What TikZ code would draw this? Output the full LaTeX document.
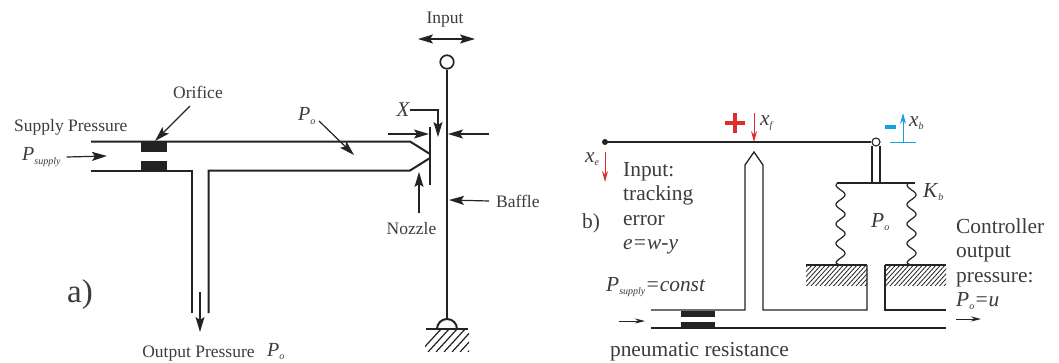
\documentclass[tikz,border=0pt]{standalone}
\usepackage{fontspec}
\setmainfont{Liberation Serif}
\usepackage{tikz}
\usetikzlibrary{arrows.meta}
\definecolor{inkgray}{RGB}{35,35,35}
\definecolor{textgray}{RGB}{60,60,60}
\definecolor{plusred}{RGB}{222,45,45}
\definecolor{minusblue}{RGB}{20,160,225}
\newcommand{\subvar}[2]{\textit{#1}\raisebox{-.16em}{\fontsize{10}{10}\selectfont\textit{#2}}}
\tikzset{
  pipe/.style={draw=inkgray,line width=2pt},
  thinpipe/.style={draw=inkgray,line width=1.3pt},
  callout/.style={draw=inkgray,line width=1.2pt,-{Stealth[length=15pt,width=9pt,inset=3pt]}},
  flowarrow/.style={draw=inkgray,line width=.9pt,-{Stealth[length=10pt,width=5pt]}},
  redarrow/.style={draw=plusred,line width=1pt,-{Stealth[length=11pt,width=6pt]}},
  bluearrow/.style={draw=minusblue,line width=1pt,-{Stealth[length=11pt,width=6pt]}},
  smalltxt/.style={inner sep=0pt,text=textgray,font=\fontsize{17.5}{17.5}\selectfont},
  bigtxt/.style={inner sep=0pt,text=textgray,font=\fontsize{21.4}{24.5}\selectfont,align=left},
  orificeblock/.style={fill=inkgray,draw=none},
  hatchline/.style={draw=inkgray,line width=.8pt}
}
\begin{document}
\begin{tikzpicture}[x=1pt,y=-1pt]
  \useasboundingbox[fill=white] (0,0) rectangle (1059,362);
  \draw[pipe] (91,141.5) -- (410,141.5) -- (430,154);
  \draw[pipe] (91,170.5) -- (191.5,170.5) -- (191.5,313);
  \draw[pipe] (208.5,313) -- (208.5,170.5) -- (410,170.5) -- (430,158);
  \fill[orificeblock] (141,142) rectangle (167,151.5);
  \fill[orificeblock] (141,161) rectangle (167,170.5);
  \draw[thinpipe,line width=1.6pt] (430,127) -- (430,185);
  \node[draw=inkgray,line width=1.7pt,circle,minimum size=13.5pt,inner sep=0pt] (pivot) at (447,62) {};
  \coordinate (hinge) at (447,319);
  \draw[pipe] (pivot) -- (hinge);
  \draw[pipe] (426,329) -- (468,329);
  \draw[pipe] (437,329) arc[start angle=180,end angle=0,radius=10pt];
  \begin{scope}
    \clip (425,330) rectangle (469,351);
    \foreach \x in {420,428,...,476}{\draw[hatchline,line width=1.2pt] (\x,352) -- (\x+22,328);}
  \end{scope}

  \node[smalltxt] (orificelabel) at (198,92) {Orifice};
  \node[smalltxt,anchor=west] (supplylabel) at (14,127) {Supply Pressure};
  \node[smalltxt,anchor=west,font=\fontsize{20}{20}\selectfont] (psupply) at (22,157) {\subvar{P}{supply}};
  \node[smalltxt] (outputlabel) at (198.5,354) {Output Pressure};
  \node[smalltxt,anchor=west,font=\fontsize{20}{20}\selectfont] (pooutput) at (267,351.5) {\subvar{P}{o}};
  \node[inner sep=0pt,text=textgray,font=\fontsize{33}{33}\selectfont] (alabel) at (80,295) {a)};
  \node[smalltxt] (inputlabel) at (445,20) {Input};
  \node[smalltxt,anchor=west,font=\fontsize{20}{20}\selectfont] (polabel) at (298,116) {\subvar{P}{o}};
  \node[smalltxt,font=\fontsize{21}{21}\selectfont\itshape] (xlabel) at (403,110) {X};
  \node[smalltxt,anchor=west] (bafflelabel) at (496,201) {Baffle};
  \node[smalltxt] (nozzlelabel) at (411.5,229) {Nozzle};

  \coordinate (orificetip) at (155,141);
  \coordinate (xcorner) at (438,110);
  \coordinate (xtip) at (438,137);
  \coordinate (gapleft) at (429,134);
  \coordinate (gapright) at (448,134);
  \draw[callout] (190,106) -- (orificetip);
  \draw[callout] ([xshift=6]psupply.east) -- (107,156);
  \draw[callout] (200,292) -- (200,332);
  \draw[callout,{Stealth[length=15pt,width=9pt,inset=3pt]}-{Stealth[length=15pt,width=9pt,inset=3pt]}] (418,39) -- (475,39);
  \draw[callout] (xlabel.east) -- (xcorner) -- (xtip);
  \draw[callout] (388,134) -- (gapleft);
  \draw[callout] (489,134) -- (gapright);
  \draw[callout] ([xshift=-7]bafflelabel.west) -- (449,200);
  \draw[callout] ([yshift=10,xshift=7.5]nozzlelabel.north) -- (419,172);
  \draw[callout] (319,121) -- (354,155);

  \draw[thinpipe] (651,310) -- (745,310) -- (745,165) -- (754,152) -- (763,165) -- (763,310) -- (867,310) -- (867,265);
  \draw[thinpipe] (885,265) -- (885,310) -- (946,310);
  \draw[thinpipe] (651,328) -- (946,328);
  \fill[orificeblock] (681,310.5) rectangle (715,317);
  \fill[orificeblock] (681,322) rectangle (715,328);
  \fill[inkgray] (605,142) circle (3pt);
  \node[draw=inkgray,line width=1.1pt,fill=white,circle,minimum size=8pt,inner sep=0pt] (leverend) at (876,142) {};
  \draw[thinpipe] (605,142) -- (leverend);
  \draw[thinpipe] (872,146) -- (872,183);
  \draw[thinpipe] (880,146) -- (880,183);
  \draw[thinpipe] (837,183) -- (915,183);
  \foreach \x in {840.5,911.5}{
    \draw[inkgray,line width=1.2pt,smooth,samples=90,domain=0:1,variable=\s] plot ({\x-4.5*cos(360*4*\s)},{185+78*\s});
    \draw[inkgray,line width=1.2pt] (\x-4.5,185) -- (\x-3,183);
    \draw[inkgray,line width=1.2pt] (\x-4.5,263) -- (\x-1,265);
  }
  \foreach \a/\b in {806/867,885/946}{
    \draw[thinpipe] (\a,265) -- (\b,265);
    \begin{scope}
      \clip (\a,265) rectangle (\b,285);
      \foreach \x in {0,4.5,...,85}{\draw[hatchline] (\a-22+\x,286) -- (\a-2+\x,264);}
    \end{scope}
  }

  \draw[plusred,line width=3.5pt] (725,123) -- (745,123);
  \draw[plusred,line width=3.5pt] (735,113) -- (735,133);
  \draw[redarrow] (754,113) -- (754,142);
  \draw[redarrow] (605,152) -- (605,182);
  \draw[minusblue,line width=3.5pt] (885,127) -- (896,127);
  \draw[bluearrow] (903,142) -- (903,113);
  \draw[minusblue,line width=1pt] (890,142) -- (916,142);
  \draw[flowarrow] (619,321) -- (645,321);
  \draw[flowarrow] (956,319) -- (981,319);

  \node[bigtxt,anchor=west] (xelabel) at (585,159) {\subvar{x}{e}};
  \node[bigtxt,anchor=west] (xflabel) at (760,123) {\subvar{x}{f}};
  \node[bigtxt,anchor=west] (xblabel) at (909,123) {\subvar{x}{b}};
  \node[bigtxt,anchor=west] (kblabel) at (923,192) {\subvar{K}{b}};
  \node[bigtxt,anchor=west] (pobellows) at (871,222) {\subvar{P}{o}};
  \node[bigtxt,anchor=north west] (inputtext) at (623,162) {Input:\\tracking\\error\\\textit{e=w-y}};
  \node[bigtxt] (blabel) at (591,223) {b)};
  \node[bigtxt,anchor=west] (psupplyconst) at (606,287) {\subvar{P}{supply}\textit{=const}};
  \node[bigtxt] (resistlabel) at (699.5,352) {pneumatic resistance};
  \node[bigtxt,anchor=north west] (controllertext) at (956,218) {Controller\\output\\pressure:\\\subvar{P}{o}\textit{=u}};
\end{tikzpicture}
\end{document}
